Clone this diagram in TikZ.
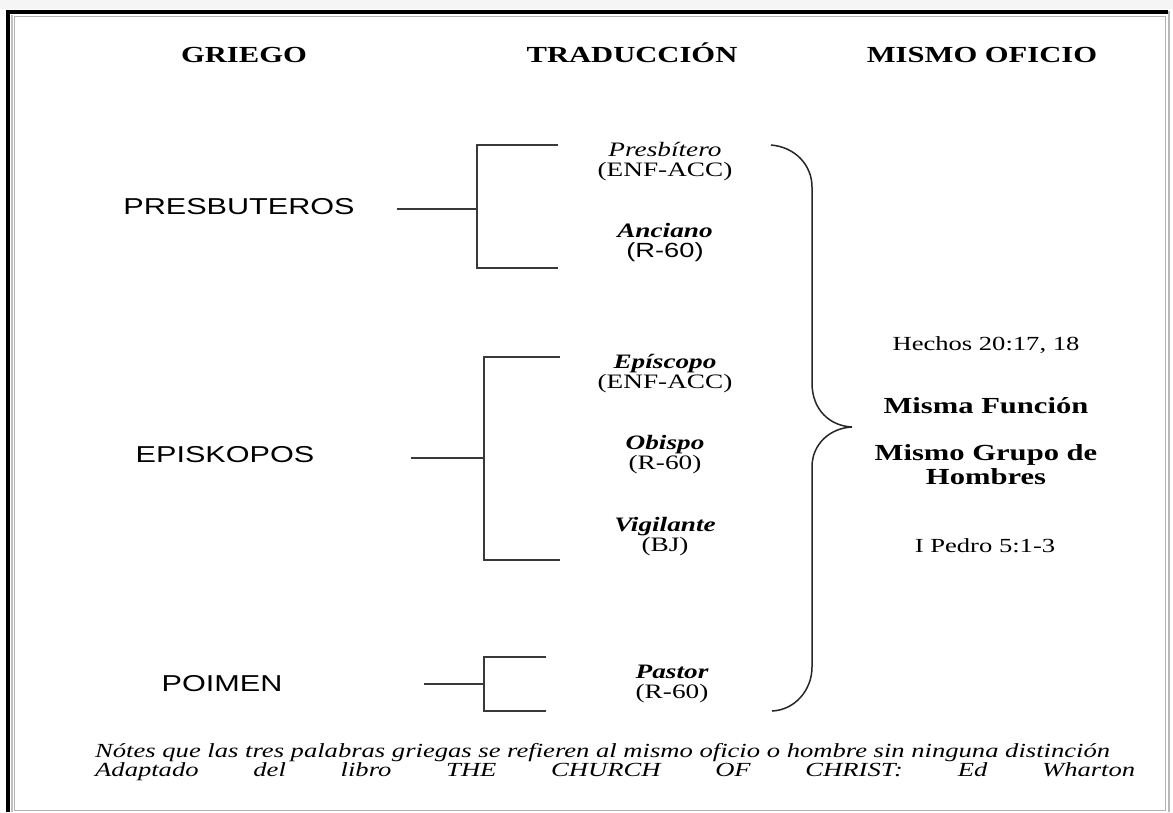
\documentclass[tikz,border=0pt]{standalone}
\usepackage{fontspec}
\setmainfont{Liberation Serif}[FakeStretch=1.33]
\newfontfamily\sansf{Liberation Sans}[FakeStretch=1.33]
\begin{document}
\begin{tikzpicture}[x=1pt,y=-1pt,
  hdr/.style={font=\fontsize{23}{23}\selectfont\bfseries, text=black, inner sep=0, anchor=base},
  grk/.style={font=\sansf\fontsize{23}{23}\selectfont, text=black, inner sep=0},
  trn/.style={font=\fontsize{20.5}{20}\selectfont, align=center, text=black, inner sep=0},
  refx/.style={font=\fontsize{20}{20}\selectfont, text=black, inner sep=0},
  big/.style={font=\fontsize{23}{24}\selectfont\bfseries, align=center, text=black, inner sep=0},
  foot/.style={font=\fontsize{20}{20}\selectfont\itshape, text=black, inner sep=0},
  conn/.style={draw=gray!45!black, line width=1.3},
  bracestyle/.style={draw=gray!30!black, line width=1.5},
]
\useasboundingbox (0,0) rectangle (1173,812);
\fill[white] (0,0) rectangle (1173,812);
\fill[gray!8] (0,0) rectangle (1173,9);
% frame
\draw[gray!60, line width=1] (14,16) rectangle (1165,810);
\draw[black, line width=4] (8,812) -- (8,12) -- (1168,12);
\draw[gray!50, line width=1.5] (12,812) -- (12,15);
\draw[gray!55, line width=2.5] (1169,11) -- (1169,812);

% headers
\node[hdr] (h1) at (244,62) {GRIEGO};
\node[hdr] (h2) at (632,62) {TRADUCCIÓN};
\node[hdr] (h3) at (982,62) {MISMO OFICIO};

% greek words
\node[grk] (g1) at (239,207) {PRESBUTEROS};
\node[grk] (g2) at (225,455) {EPISKOPOS};
\node[grk] (g3) at (222,684) {POIMEN};

% translations
\node[trn] (t1) at (665,162) {{\itshape Presbítero}\\(ENF-ACC)};
\node[trn] (t2) at (665,243) {{\bfseries\itshape Anciano}\\{\sansf (R-60)}};
\node[trn] (t3) at (665,374) {{\bfseries\itshape Epíscopo}\\(ENF-ACC)};
\node[trn] (t4) at (665,455) {{\bfseries\itshape Obispo}\\(R-60)};
\node[trn] (t5) at (665,537) {{\bfseries\itshape Vigilante}\\(BJ)};
\node[trn] (t6) at (672,684) {{\bfseries\itshape Pastor}\\(R-60)};

% right column
\node[refx] (r1) at (986,345) {Hechos 20:17, 18};
\node[big] (r2) at (986,406) {Misma Función};
\node[big] (r3) at (986,465) {Mismo Grupo de\\Hombres};
\node[refx] (r4) at (985,546) {I Pedro 5:1-3};

% footer
\node[foot, anchor=base west] (f1) at (95,757) {Nótes que las tres palabras griegas se refieren al mismo oficio o hombre sin ninguna distinción};
\node[foot, anchor=base west] (f2) at (95,776) {\makebox[1040pt][s]{Adaptado del libro THE CHURCH OF CHRIST: Ed Wharton}};

% bracket PRESBUTEROS
\coordinate (a0) at (397,209); \coordinate (a1) at (477,209);
\coordinate (a2) at (477,145); \coordinate (a3) at (558,145);
\coordinate (a4) at (477,268); \coordinate (a5) at (558,268);
\draw[conn] (a0) -- (a1);
\draw[conn] (a3) -- (a2) -- (a4) -- (a5);
% bracket EPISKOPOS
\coordinate (b0) at (411,458); \coordinate (b1) at (484,458);
\coordinate (b2) at (484,357); \coordinate (b3) at (560,357);
\coordinate (b4) at (484,560); \coordinate (b5) at (560,560);
\draw[conn] (b0) -- (b1);
\draw[conn] (b3) -- (b2) -- (b4) -- (b5);
% bracket POIMEN
\coordinate (c0) at (424,684); \coordinate (c1) at (484,684);
\coordinate (c2) at (484,657); \coordinate (c3) at (546,657);
\coordinate (c4) at (484,711); \coordinate (c5) at (546,711);
\draw[conn] (c0) -- (c1);
\draw[conn] (c3) -- (c2) -- (c4) -- (c5);

% big brace
\draw[bracestyle] (771,145) .. controls (795,147) and (812,165) .. (812,187)
  -- (812,383) .. controls (812,410) and (830,426) .. (852,427)
  .. controls (830,428) and (812,444) .. (812,467)
  -- (812,667) .. controls (812,690) and (795,710) .. (772,711);
\end{tikzpicture}
\end{document}
